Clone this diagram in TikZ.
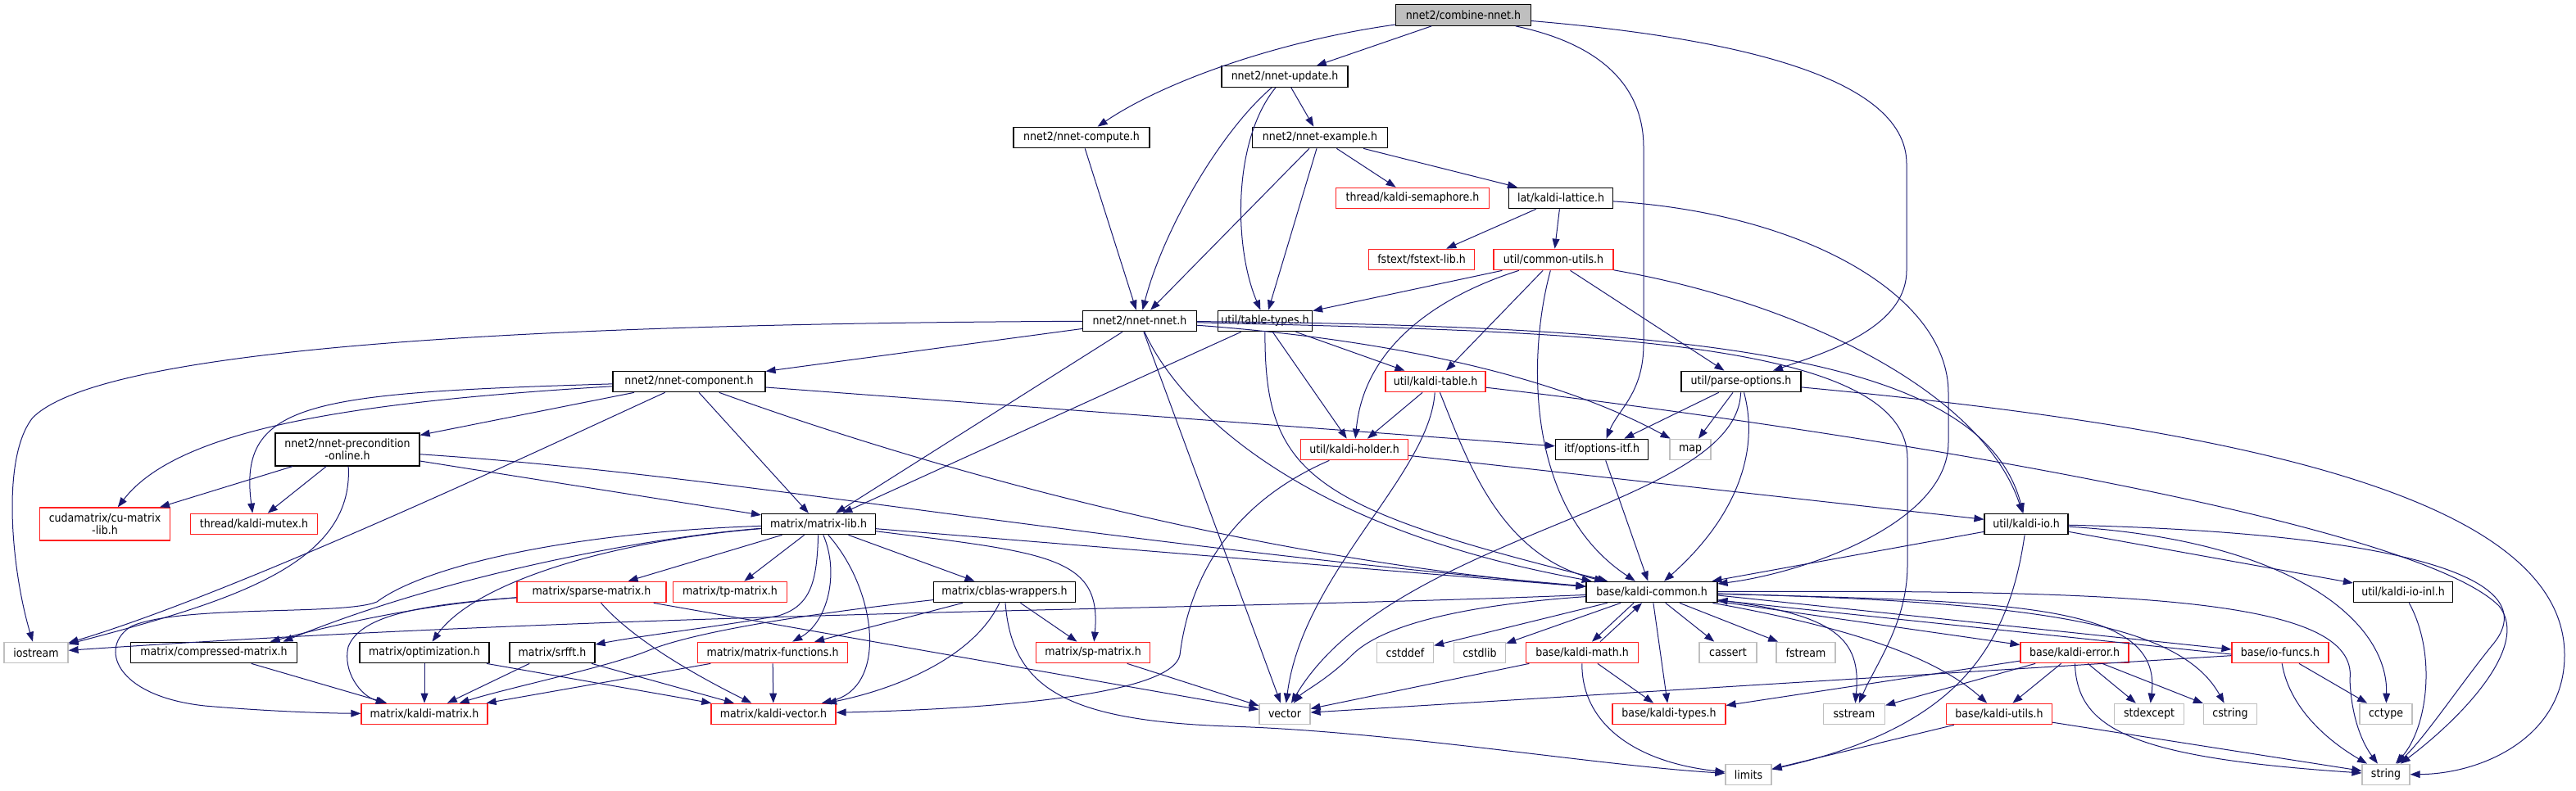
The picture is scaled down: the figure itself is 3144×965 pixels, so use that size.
\documentclass[tikz,border=0pt]{standalone}
\usepackage{fontspec}
\setmainfont{DejaVu Sans}[FakeStretch=0.9]
\usetikzlibrary{arrows.meta}
\definecolor{edgec}{HTML}{191970}
\definecolor{grayb}{HTML}{BFBFBF}
\definecolor{redb}{HTML}{FF2020}
\newcommand{\dxf}{\fontsize{7}{7.5}\selectfont}
\begin{document}
\begin{tikzpicture}[x=0.5pt,y=-0.5pt,
  nd/.style={draw=black, fill=white, line width=0.6pt, inner sep=0pt, minimum height=12.75pt, font=\dxf, align=center},
  rd/.style={nd, draw=redb},
  gy/.style={nd, draw=grayb},
  wd/.style={minimum width=#1*0.5pt},
  tall/.style={minimum height=20pt},
  e/.style={draw=edgec, line width=0.5pt, -{Triangle[length=6pt,width=4.4pt]}}]
\useasboundingbox (0,0) rectangle (3144,965);
% nodes
\node[nd,wd=165,fill=grayb] (combine) at (1786,18.5) {nnet2/combine-nnet.h};
\node[nd,wd=154] (update) at (1568,93.5) {nnet2/nnet-update.h};
\node[nd,wd=166] (compute) at (1320,168) {nnet2/nnet-compute.h};
\node[nd,wd=165] (example) at (1611,168) {nnet2/nnet-example.h};
\node[rd,wd=187] (sem) at (1724,242) {thread/kaldi-semaphore.h};
\node[nd,wd=127] (lattice) at (1905,242) {lat/kaldi-lattice.h};
\node[rd,wd=129] (fstext) at (1735,317) {fstext/fstext-lib.h};
\node[rd,wd=146] (cutils) at (1896,317) {util/common-utils.h};
\node[nd,wd=139] (nnet) at (1391,392) {nnet2/nnet-nnet.h};
\node[nd,wd=115] (ttypes) at (1544,392) {util/table-types.h};
\node[nd,wd=186] (comp) at (841,466) {nnet2/nnet-component.h};
\node[rd,wd=122] (ktable) at (1752,466) {util/kaldi-table.h};
\node[nd,wd=146] (popt) at (2125,466) {util/parse-options.h};
\node[nd,wd=176,tall] (precond) at (424,549) {nnet2/nnet-precondition\\-online.h};
\node[rd,wd=131] (holder) at (1653,549) {util/kaldi-holder.h};
\node[nd,wd=113] (oitf) at (1955,549) {itf/options-itf.h};
\node[gy,wd=50] (map) at (2063,549) {map};
\node[rd,wd=159,tall] (cumat) at (128,640) {cudamatrix/cu-matrix\\-lib.h};
\node[rd,wd=155] (mutex) at (310,640) {thread/kaldi-mutex.h};
\node[nd,wd=139] (mlib) at (999,640) {matrix/matrix-lib.h};
\node[nd,wd=102] (kio) at (2473,640) {util/kaldi-io.h};
\node[rd,wd=182] (sparse) at (722,723) {matrix/sparse-matrix.h};
\node[rd,wd=139] (tp) at (891,723) {matrix/tp-matrix.h};
\node[nd,wd=173] (cblas) at (1226,723) {matrix/cblas-wrappers.h};
\node[nd,wd=160] (kcommon) at (2016,723) {base/kaldi-common.h};
\node[nd,wd=121] (kioinl) at (2933,723) {util/kaldi-io-inl.h};
\node[gy,wd=78] (iostream) at (44,797) {iostream};
\node[nd,wd=203] (compressed) at (261,797) {matrix/compressed-matrix.h};
\node[nd,wd=158] (optim) at (518,797) {matrix/optimization.h};
\node[nd,wd=104] (srfft) at (674,797) {matrix/srfft.h};
\node[rd,wd=183] (mfunc) at (943,797) {matrix/matrix-functions.h};
\node[rd,wd=139] (spm) at (1334,797) {matrix/sp-matrix.h};
\node[gy,wd=69] (cstddef) at (1715,797) {cstddef};
\node[gy,wd=63] (cstdlib) at (1806,797) {cstdlib};
\node[rd,wd=137] (kmath) at (1931,797) {base/kaldi-math.h};
\node[gy,wd=70] (cassert) at (2109,797) {cassert};
\node[gy,wd=72] (fstream) at (2204,797) {fstream};
\node[rd,wd=132] (kerror) at (2532,797) {base/kaldi-error.h};
\node[rd,wd=118] (iofuncs) at (2783,797) {base/io-funcs.h};
\node[rd,wd=154] (kmatrix) at (518,872) {matrix/kaldi-matrix.h};
\node[rd,wd=152] (kvector) at (944,872) {matrix/kaldi-vector.h};
\node[gy,wd=62] (vector) at (1568,872) {vector};
\node[rd,wd=138] (ktypes) at (2037,872) {base/kaldi-types.h};
\node[gy,wd=75] (sstream) at (2263,872) {sstream};
\node[rd,wd=129] (kutils) at (2440,872) {base/kaldi-utils.h};
\node[gy,wd=85] (stdexcept) at (2623,872) {stdexcept};
\node[gy,wd=65] (cstring) at (2722,872) {cstring};
\node[gy,wd=64] (cctype) at (2912,872) {cctype};
\node[gy,wd=56] (limits) at (2134,946) {limits};
\node[gy,wd=58] (string) at (2912,946) {string};
% edges
\draw[e] (combine) .. controls (1560,50) and (1420,100) .. (compute);
\draw[e] (combine) -- (update);
\draw[e] (combine) .. controls (1960,55) and (2006,110) .. (2006,180) -- (2006,420) .. controls (2006,480) and (1975,500) .. (oitf);
\draw[e] (combine) .. controls (2100,45) and (2327,90) .. (2327,200) -- (2327,330) .. controls (2327,400) and (2230,430) .. (popt);
\draw[e] (update) -- (example);
\draw[e] (update) .. controls (1490,160) and (1420,280) .. (nnet);
\draw[e] (update) .. controls (1505,170) and (1505,300) .. (ttypes);
\draw[e] (compute) -- (nnet);
\draw[e] (example) -- (nnet);
\draw[e] (example) -- (ttypes);
\draw[e] (example) -- (sem);
\draw[e] (example) -- (lattice);
\draw[e] (lattice) -- (fstext);
\draw[e] (lattice) -- (cutils);
\draw[e] (lattice) .. controls (2200,260) and (2378,360) .. (2378,480) -- (2378,540) .. controls (2378,640) and (2200,700) .. (kcommon);
\draw[e] (cutils) -- (ttypes);
\draw[e] (cutils) .. controls (1760,360) and (1665,420) .. (holder);
\draw[e] (cutils) -- (ktable);
\draw[e] (cutils) .. controls (1865,430) and (1860,620) .. (kcommon);
\draw[e] (cutils) -- (popt);
\draw[e] (cutils) .. controls (2200,370) and (2420,480) .. (kio);
\draw[e] (ttypes) -- (ktable);
\draw[e] (ttypes) -- (holder);
\draw[e] (ttypes) .. controls (1543,580) and (1600,620) .. (kcommon);
\draw[e] (ttypes) -- (mlib);
\draw[e] (nnet) -- (comp);
\draw[e] (nnet) .. controls (700,395) and (130,420) .. (40,510) .. controls (0,560) and (15,700) .. (iostream);
\draw[e] (nnet) -- (mlib);
\draw[e] (nnet) -- (vector);
\draw[e] (nnet) .. controls (1430,480) and (1560,640) .. (kcommon);
\draw[e] (nnet) .. controls (1700,415) and (1900,460) .. (map);
\draw[e] (nnet) .. controls (1900,405) and (2328,410) .. (2328,560) -- (2328,690) .. controls (2328,760) and (2290,810) .. (sstream);
\draw[e] (nnet) .. controls (2100,398) and (2420,440) .. (kio);
\draw[e] (comp) -- (precond);
\draw[e] (comp) .. controls (450,490) and (220,520) .. (cumat);
\draw[e] (comp) .. controls (380,480) and (290,490) .. (mutex);
\draw[e] (comp) -- (mlib);
\draw[e] (comp) .. controls (1100,560) and (1500,680) .. (kcommon);
\draw[e] (comp) -- (oitf);
\draw[e] (comp) .. controls (700,530) and (300,720) .. (iostream);
\draw[e] (precond) -- (cumat);
\draw[e] (precond) -- (mutex);
\draw[e] (precond) .. controls (432,690) and (280,735) .. (iostream);
\draw[e] (precond) -- (mlib);
\draw[e] (precond) .. controls (900,580) and (1300,660) .. (kcommon);
\draw[e] (ktable) -- (holder);
\draw[e] (ktable) .. controls (1745,580) and (1590,700) .. (vector);
\draw[e] (ktable) .. controls (1790,560) and (1830,680) .. (kcommon);
\draw[e] (ktable) .. controls (2300,530) and (2950,640) .. (3050,740) .. controls (3090,790) and (3000,880) .. (string);
\draw[e] (holder) -- (kio);
\draw[e] (holder) .. controls (1490,620) and (1450,720) .. (1440,800) .. controls (1430,850) and (1200,866) .. (kvector);
\draw[e] (popt) -- (oitf);
\draw[e] (popt) -- (map);
\draw[e] (popt) .. controls (2120,620) and (1700,650) .. (vector);
\draw[e] (popt) .. controls (2150,560) and (2110,640) .. (kcommon);
\draw[e] (popt) .. controls (2700,520) and (3130,600) .. (3130,800) .. controls (3130,900) and (3030,945) .. (string);
\draw[e] (oitf) -- (kcommon);
\draw[e] (kio) -- (kcommon);
\draw[e] (kio) .. controls (2450,800) and (2380,890) .. (limits);
\draw[e] (kio) -- (kioinl);
\draw[e] (kio) .. controls (2800,660) and (2915,760) .. (cctype);
\draw[e] (kio) .. controls (2900,650) and (3120,700) .. (3040,790) .. controls (3000,840) and (2960,900) .. (string);
\draw[e] (kioinl) .. controls (2975,800) and (2962,890) .. (string);
\draw[e] (mlib) -- (kcommon);
\draw[e] (mlib) -- (sparse);
\draw[e] (mlib) -- (tp);
\draw[e] (mlib) -- (cblas);
\draw[e] (mlib) .. controls (997,710) and (990,740) .. (950,752) .. controls (880,765) and (790,775) .. (srfft);
\draw[e] (mlib) .. controls (1025,700) and (1010,760) .. (mfunc);
\draw[e] (mlib) .. controls (1070,720) and (1085,840) .. (kvector);
\draw[e] (mlib) .. controls (1280,675) and (1345,680) .. (spm);
\draw[e] (mlib) .. controls (800,655) and (550,700) .. (compressed.9);
\draw[e] (mlib) .. controls (750,660) and (580,710) .. (optim);
\draw[e] (mlib) .. controls (700,650) and (520,690) .. (460,735) .. controls (420,752) and (220,738) .. (160,765) .. controls (120,790) and (140,850) .. (250,862) .. controls (330,869) and (400,871) .. (kmatrix);
\draw[e] (sparse) .. controls (520,738) and (420,760) .. (compressed.11);
\draw[e] (sparse) .. controls (520,738) and (440,750) .. (425,790) .. controls (418,820) and (440,850) .. (kmatrix);
\draw[e] (sparse) .. controls (780,790) and (880,840) .. (kvector);
\draw[e] (sparse) -- (vector);
\draw[e] (compressed) -- (kmatrix);
\draw[e] (optim) -- (kmatrix);
\draw[e] (optim) -- (kvector);
\draw[e] (srfft) -- (kmatrix);
\draw[e] (srfft) -- (kvector);
\draw[e] (mfunc) -- (kmatrix);
\draw[e] (mfunc) -- (kvector);
\draw[e] (cblas) -- (mfunc);
\draw[e] (cblas) .. controls (1000,748) and (850,770) .. (790,795) .. controls (740,815) and (620,840) .. (kmatrix);
\draw[e] (cblas) .. controls (1190,800) and (1100,840) .. (kvector);
\draw[e] (cblas) -- (spm);
\draw[e] (cblas) .. controls (1235,840) and (1300,880) .. (1500,887) .. controls (1700,893) and (1950,935) .. (limits);
\draw[e] (spm) -- (vector);
\draw[e] (kcommon) .. controls (1500,745) and (800,745) .. (iostream);
\draw[e] (kcommon) .. controls (1800,738) and (1690,760) .. (1650,800) .. controls (1620,830) and (1590,845) .. (vector);
\draw[e] (kcommon) -- (cstddef);
\draw[e] (kcommon) -- (cstdlib);
\draw[e] ([xshift=-11pt]kcommon.south) -- ([xshift=6pt]kmath.north);
\draw[e] ([xshift=11pt]kmath.north) -- ([xshift=-6pt]kcommon.south);
\draw[e] (kcommon) -- (ktypes);
\draw[e] (kcommon) -- (cassert);
\draw[e] (kcommon) -- (fstream);
\draw[e] (kcommon) .. controls (2240,750) and (2272,780) .. (sstream);
\draw[e] (kcommon) -- (kerror);
\draw[e] (kcommon) .. controls (2250,765) and (2360,800) .. (kutils);
\draw[e] (kcommon) .. controls (2450,735) and (2640,735) .. (stdexcept);
\draw[e] (kcommon) .. controls (2480,735) and (2660,760) .. (cstring);
\draw[e] ([yshift=-2pt]kcommon.east) -- ([yshift=2pt]iofuncs.west);
\draw[e] ([yshift=-1pt]iofuncs.west) -- ([yshift=-5pt]kcommon.east);
\draw[e] (kcommon) .. controls (2600,720) and (2880,730) .. (2868,830) .. controls (2870,880) and (2885,910) .. (string);
\draw[e] (kmath) -- (vector);
\draw[e] (kmath) -- (ktypes);
\draw[e] (kmath) .. controls (1930,880) and (1990,930) .. (limits);
\draw[e] (kerror) -- (ktypes);
\draw[e] (kerror) -- (sstream);
\draw[e] (kerror) -- (kutils);
\draw[e] (kerror) -- (stdexcept);
\draw[e] (kerror) -- (cstring);
\draw[e] (kerror) .. controls (2535,890) and (2600,925) .. (string);
\draw[e] (kutils) -- (limits);
\draw[e] (kutils) -- (string);
\draw[e] (iofuncs) -- (vector);
\draw[e] (iofuncs) -- (cctype);
\draw[e] (iofuncs) .. controls (2795,870) and (2850,910) .. (string);
\end{tikzpicture}
\end{document}
